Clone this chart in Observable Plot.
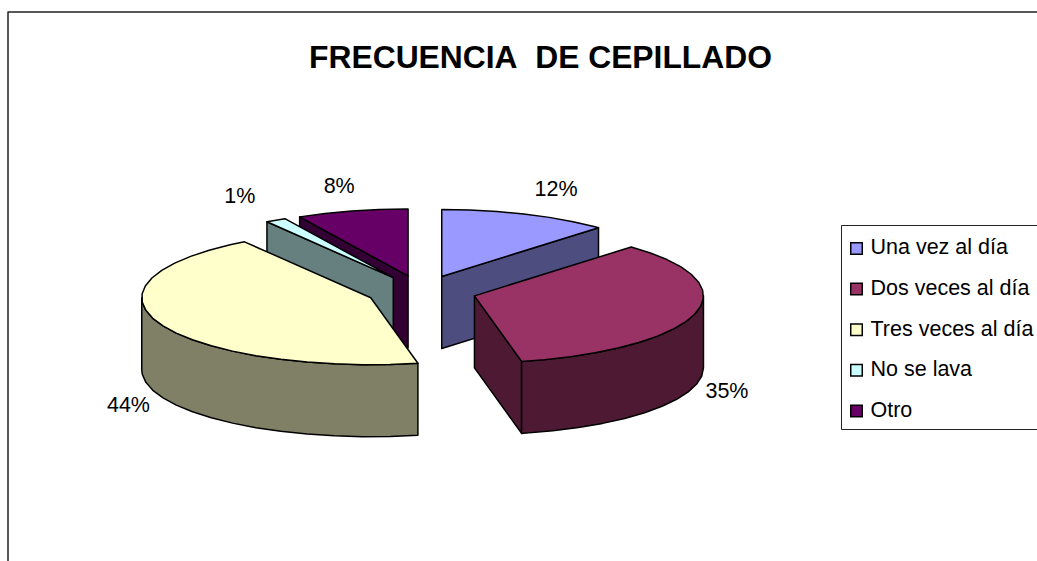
<!DOCTYPE html>
<html>
<head>
<meta charset="utf-8">
<script src="https://cdn.jsdelivr.net/npm/d3@7"></script>
<script src="https://cdn.jsdelivr.net/npm/@observablehq/plot@0.6"></script>
<style>html,body{margin:0;padding:0;background:#fff}svg{display:block}</style>
</head>
<body>
<div id="chart"></div>
<script>
const titleText = "FRECUENCIA\u00A0\u00A0DE CEPILLADO";
const categories = ["Una vez al día", "Dos veces al día", "Tres veces al día", "No se lava", "Otro"];
const values = [12, 34.7, 44, 1.45, 7.85];
const topColors = ["#9999FF", "#993366", "#FFFFCC", "#CCFFFF", "#660066"];
const sideColors = ["#4D4D80", "#4D1933", "#808066", "#668080", "#330033"];
const paintOrder = [4, 0, 3, 2, 1];

// Pie layout (pixels of the pixel-identity scales below)
const cx = 421, cy = 291, rx = 229, ry = 67, depth = 72, explode = 55;
const step = 7;
const labelNudge = [[30, -25], [32, 77], [-31, 82], [-36, -24], [-13, -25]];

const total = d3.sum(values);
const cum = d3.cumsum(values);
const rad = (a) => (a * Math.PI) / 180;
const slices = values.map((v, i) => {
  const a0 = ((cum[i] - v) / total) * 360, a1 = (cum[i] / total) * 360, mid = (a0 + a1) / 2;
  const ax = cx + explode * Math.sin(rad(mid));
  const ay = cy - explode * (ry / rx) * Math.cos(rad(mid));
  const at = (a) => [ax + rx * Math.sin(rad(a)), ay - ry * Math.cos(rad(a))];
  return {i, a0, a1, mid, ax, ay, at};
});
function arc(s, from, to) {
  const pts = [];
  for (let a = from; a < to; a += step) pts.push(s.at(a));
  pts.push(s.at(to));
  return pts;
}
const rows = [];
let pid = 0;
function addPoly(pts, fill) {
  pid++;
  pts.forEach(([x, y]) => rows.push({x, y, poly: pid, fill}));
}
const down = ([x, y]) => [x, y + depth];
for (const i of paintOrder) {
  const s = slices[i];
  const apex = [s.ax, s.ay];
  // Radial faces turned towards the viewer
  if (Math.cos(rad(s.a0 - 90)) < -1e-6) {
    const e = s.at(s.a0);
    addPoly([apex, e, down(e), down(apex)], sideColors[i]);
  }
  if (Math.cos(rad(s.a1 + 90)) < -1e-6) {
    const e = s.at(s.a1);
    addPoly([apex, e, down(e), down(apex)], sideColors[i]);
  }
  // Outer wall: the part of the rim facing the viewer
  const w0 = Math.max(s.a0, 90), w1 = Math.min(s.a1, 270);
  if (w1 > w0) {
    const top = arc(s, w0, w1);
    addPoly([...top, ...top.slice().reverse().map(down)], sideColors[i]);
  }
  // Top face
  addPoly([apex, ...arc(s, s.a0, s.a1)], topColors[i]);
}

const labels = slices.map((s) => {
  const [ex, ey] = s.at(s.mid);
  return {x: ex + labelNudge[s.i][0], y: ey + labelNudge[s.i][1], t: Math.round(values[s.i]) + "%"};
});

const legendTop = 225, legendBottom = 429, legendLeft = 841;
const legendRows = categories.map((name, i) => ({
  name,
  color: topColors[i],
  y: legendTop + 23 + i * 40.6
}));

const font = "Liberation Sans, Arial, sans-serif";
const plot = Plot.plot({
  width: 1037, height: 561,
  margin: 0,
  x: {domain: [0, 1037], range: [0, 1037], axis: null},
  y: {domain: [0, 561], range: [0, 561], axis: null},
  style: {background: "#fff", fontFamily: font},
  marks: [
    Plot.line([{x: 7.5, y: 561}, {x: 7.5, y: 11.5}, {x: 1037, y: 11.5}], {x: "x", y: "y", stroke: "#222", strokeWidth: 1.5, curve: "linear"}),
    Plot.text([titleText], {x: 540, y: 57, text: (d) => d, fontSize: 31.8, fontWeight: "bold", fill: "#000", fontFamily: font}),
    Plot.line(rows, {x: "x", y: "y", z: "poly", fill: "fill", stroke: "#000", strokeWidth: 1.5, curve: "linear-closed", strokeLinejoin: "round"}),
    Plot.text(labels, {x: "x", y: "y", text: "t", fontSize: 21.5, fill: "#000", fontFamily: font}),
    Plot.line([{x: 1038, y: legendTop}, {x: legendLeft, y: legendTop}, {x: legendLeft, y: legendBottom}, {x: 1038, y: legendBottom}], {x: "x", y: "y", stroke: "#222", strokeWidth: 1, curve: "linear"}),
    Plot.dot(legendRows, {x: 856, y: "y", symbol: "square", r: 6.5, fill: "color", stroke: "#000", strokeWidth: 1.5}),
    Plot.text(legendRows, {x: 870, y: (d) => d.y - 1, text: "name", textAnchor: "start", fontSize: 21.5, fill: "#000", fontFamily: font})
  ]
});
document.getElementById("chart").append(plot);
</script>
</body>
</html>
